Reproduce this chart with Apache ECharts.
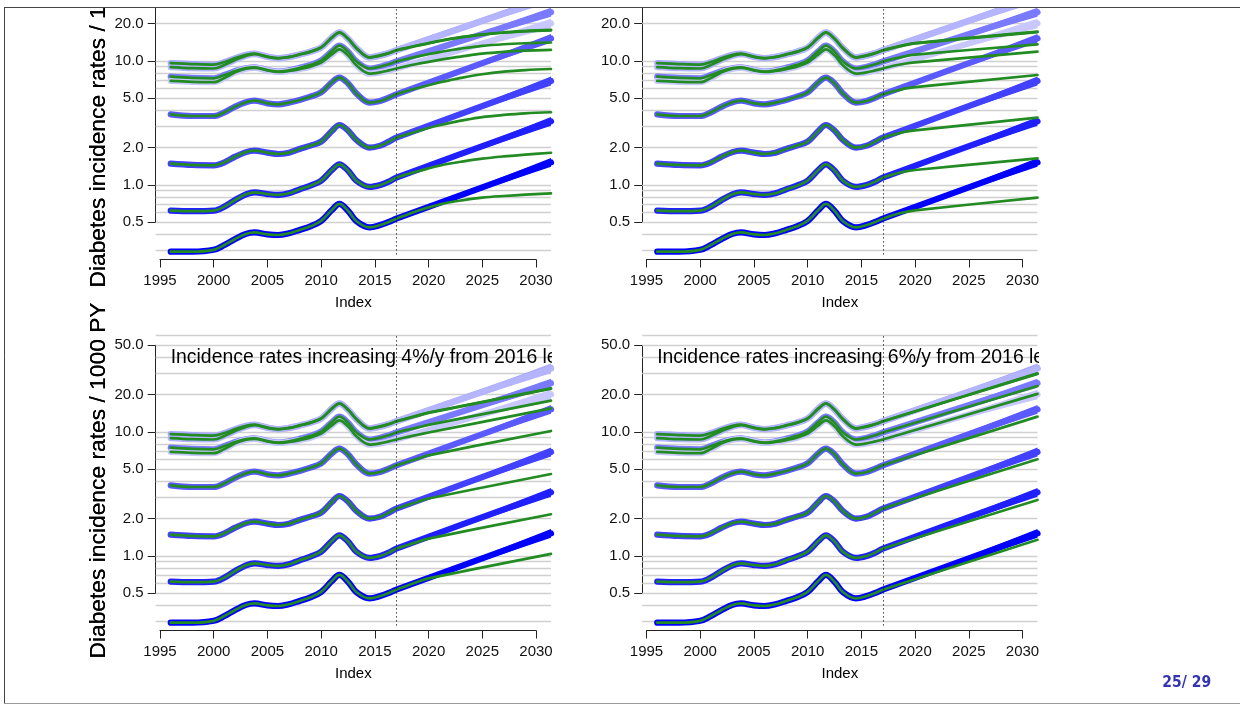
<!DOCTYPE html>
<html><head><meta charset="utf-8">
<script src="https://cdn.jsdelivr.net/npm/echarts@6/dist/echarts.min.js"></script>
<style>html,body{margin:0;padding:0;background:#fff}#c{width:1240px;height:704px}</style>
</head><body><div id="c"></div>
<script>
// ---------- DATA ----------
const histYears = [1996,1998,2000,2001,2002,2003,2003.8,2005,2006,2007,2008,2009,2010,2011,2011.7,2012.5,2013.3,2014.5,2015.5,2016.3,2017];
const histC1 = [0.290,0.290,0.300,0.328,0.367,0.403,0.414,0.400,0.395,0.408,0.434,0.464,0.513,0.628,0.703,0.620,0.510,0.455,0.475,0.503,0.535];
const histC2 = [0.621,0.615,0.621,0.669,0.757,0.840,0.873,0.845,0.831,0.857,0.923,0.988,1.084,1.321,1.468,1.310,1.080,0.965,1.000,1.064,1.146];
const histC3 = [1.486,1.450,1.441,1.523,1.692,1.840,1.891,1.823,1.778,1.823,1.951,2.076,2.236,2.726,3.047,2.750,2.300,2.000,2.076,2.236,2.408];
const histC4 = [3.715,3.601,3.601,3.855,4.282,4.650,4.787,4.556,4.472,4.613,4.848,5.157,5.588,6.730,7.337,6.600,5.450,4.613,4.757,5.063,5.385];
const histC5 = [6.90,6.78,6.75,7.30,8.10,8.65,8.80,8.40,8.15,8.30,8.60,9.00,9.70,11.3,12.4,11.1,9.20,7.90,8.10,8.40,8.70];
const histC6 = [7.47,7.30,7.25,7.70,8.30,8.75,8.90,8.45,8.20,8.40,8.80,9.30,10.1,12.0,13.3,11.9,9.90,8.70,9.00,9.40,9.90];
const histC7 = [8.92,8.75,8.70,9.30,10.2,11.0,11.35,10.8,10.5,10.75,11.25,11.85,12.8,15.4,16.9,15.1,12.6,10.65,11.05,11.55,12.15];
const histC8 = [9.62,9.45,9.35,9.80,10.55,11.2,11.45,10.85,10.55,10.8,11.3,11.9,12.85,15.5,17.0,15.2,12.7,10.72,11.1,11.6,12.2];

const projStart = 2017, projEnd = 2031.4;
const blueEnd = [1.52, 3.26, 6.90, 15.2, 20.1, 24.7, 32.4, 32.8];
const bandLo  = [1.40, 3.00, 6.35, 14.0, 18.4, 22.7, 29.8, 30.2];
const bandHi  = [1.65, 3.54, 7.50, 16.5, 21.9, 26.9, 35.2, 35.6];

// green projections, top-left (levelling off)
const yrsTL = [2017,2018,2019,2020,2021,2022,2023,2025,2027,2029,2031.4];
const tlC1 = [0.535,0.575,0.62,0.66,0.695,0.725,0.75,0.79,0.815,0.835,0.857];
const tlC2 = [1.146,1.22,1.29,1.36,1.43,1.49,1.54,1.63,1.70,1.76,1.82];
const tlC3 = [2.408,2.56,2.72,2.88,3.03,3.17,3.30,3.53,3.67,3.78,3.86];
const tlC4 = [5.385,5.72,6.05,6.38,6.70,7.00,7.30,7.82,8.20,8.45,8.62];
const tlC5 = [8.70,9.10,9.50,9.85,10.2,10.55,10.85,11.45,11.85,12.1,12.3];
const tlC6 = [9.90,10.4,10.9,11.35,11.8,12.2,12.6,13.25,13.65,13.9,14.1];
const tlC7 = [12.15,12.7,13.3,13.85,14.45,15.0,15.5,16.3,16.9,17.35,17.65];
const tlC8 = [12.2,12.8,13.4,13.95,14.55,15.1,15.6,16.4,17.0,17.5,17.8];
// top-right (slower linear growth)
const yrsTR = [2017,2018,2019,2020,2031.4];
const trC1 = [0.535,0.573,0.603,0.625,0.79];
const trC2 = [1.146,1.22,1.28,1.32,1.64];
const trC3 = [2.408,2.55,2.68,2.76,3.49];
const trC4 = [5.385,5.70,5.98,6.15,7.71];
const trC5 = [8.70,9.15,9.50,9.75,11.89];
const trC6 = [9.90,10.4,10.9,11.25,13.63];
const trC7 = [12.15,12.75,13.35,13.85,17.1];
const trC8 = [12.2,12.85,13.45,13.95,17.25];
// bottom-left (4%/y)
const yrsBL = [2017,2018,2019,2020,2031.4];
const blC1 = [0.535,0.575,0.62,0.66,1.04];
const blC2 = [1.146,1.22,1.30,1.38,2.17];
const blC3 = [2.408,2.57,2.74,2.91,4.58];
const blC4 = [5.385,5.73,6.10,6.48,10.19];
const blC5 = [8.70,9.10,9.50,9.90,15.5];
const blC6 = [9.90,10.4,10.9,11.4,17.9];
const blC7 = [12.15,12.8,13.5,14.25,22.3];
const blC8 = [12.2,12.9,13.6,14.35,22.5];
// bottom-right (6%/y)
const yrsBR = [2017,2031.4];
const brC1 = [0.535,1.35];
const brC2 = [1.146,2.83];
const brC3 = [2.408,6.02];
const brC4 = [5.385,13.3];
const brC5 = [8.70,20.3];
const brC6 = [9.90,23.5];
const brC7 = [12.15,29.4];
const brC8 = [12.2,29.7];

const xTickMin = 1995, xTickMax = 2030, xTickStep = 5;
const yTickVals = [0.5, 1, 2, 5, 10, 20, 50];
const gridVals = [0.3,0.4,0.5,0.6,0.7,0.8,0.9,1,2,3,4,5,6,7,8,9,10,20,30,40,50,60];
const vLineYear = 2017;
const yTitle = 'Diabetes incidence rates / 1000 PY';
const xTitle = 'Index';
const noteBL = 'Incidence rates increasing 4%/y from 2016 level';
const noteBR = 'Incidence rates increasing 6%/y from 2016 level';
const pageNo = '25/ 29';

// ---------- STYLE / LAYOUT ----------
const FONT = "'Liberation Sans', Arial, Helvetica, sans-serif";
const hist = [histC1,histC2,histC3,histC4,histC5,histC6,histC7,histC8];
const blueCols = ['#0000FF','#2020FF','#4141FF','#5A5AFF','#C8C8FF','#7A7AFF','#B5B5FF','#A9A9FF'];
const GREEN = '#228B22';
const W = 395.3, H = 290;
const panels = [
  {L:155.7, T:-35.5, axisY:259.5, yrs:yrsTL, g:[tlC1,tlC2,tlC3,tlC4,tlC5,tlC6,tlC7,tlC8], note:null},
  {L:642.2, T:-35.5, axisY:259.5, yrs:yrsTR, g:[trC1,trC2,trC3,trC4,trC5,trC6,trC7,trC8], note:null},
  {L:155.7, T:335.5, axisY:630.5, yrs:yrsBL, g:[blC1,blC2,blC3,blC4,blC5,blC6,blC7,blC8], note:noteBL},
  {L:642.2, T:335.5, axisY:630.5, yrs:yrsBR, g:[brC1,brC2,brC3,brC4,brC5,brC6,brC7,brC8], note:noteBR}
];

const grids=[], xAxes=[], yAxes=[], series=[], graphics=[];
const order = [7,6,5,4,3,2,1,0];
const G = (o) => Object.assign({outerBoundsMode:'none', containLabel:false}, o);
panels.forEach(p => {
  // data grid
  const gi = grids.length;
  grids.push(G({left:p.L, top:p.T, width:W, height:H}));
  xAxes.push({gridIndex:gi, type:'value', min:1994.6, max:2031.4, axisLine:{show:false}, axisTick:{show:false}, axisLabel:{show:false}, splitLine:{show:false},
    name:xTitle, nameLocation:'middle', nameGap:41, nameTextStyle:{fontSize:15, color:'#000', fontFamily:FONT}});
  yAxes.push({gridIndex:gi, type:'log', min:0.275, max:60, axisLine:{show:false}, axisTick:{show:false}, axisLabel:{show:false}, splitLine:{show:false}});
  // x axis grid
  const gx = grids.length;
  grids.push(G({left:p.L+4.3, top:p.axisY-10, width:376, height:10}));
  xAxes.push({gridIndex:gx, type:'value', min:xTickMin, max:xTickMax, interval:xTickStep,
    axisLine:{show:true, lineStyle:{color:'#222', width:1}}, axisTick:{show:true, length:8, lineStyle:{color:'#222', width:1}},
    axisLabel:{fontSize:15, color:'#111', margin:14, fontFamily:FONT, formatter:v=>String(v)}, splitLine:{show:false}});
  yAxes.push({gridIndex:gx, type:'value', show:false});
  // y axis grid
  const gy = grids.length;
  grids.push(G({left:p.L, top:p.T+9.8, width:10, height:248}));
  xAxes.push({gridIndex:gy, type:'value', show:false});
  yAxes.push({gridIndex:gy, type:'log', min:0.5, max:50,
    axisLine:{show:true, lineStyle:{color:'#222', width:1}},
    axisTick:{show:true, length:8, customValues:yTickVals, lineStyle:{color:'#222', width:1}},
    axisLabel:{customValues:yTickVals, formatter:v=>Number(v).toFixed(1), margin:12, fontSize:15, color:'#111', fontFamily:FONT},
    splitLine:{show:false}});

  // horizontal grid lines (behind)
  series.push({type:'line', xAxisIndex:gi, yAxisIndex:gi, data:[], silent:true, z:1, animation:false,
    markLine:{silent:true, z:1, symbol:['none','none'], label:{show:false}, animation:false,
      lineStyle:{color:'#D0D0D0', width:1.4, type:'solid'},
      data: gridVals.map(v=>({yAxis:v}))}});
  // blue lines
  order.forEach(i => {
    series.push({type:'line', xAxisIndex:gi, yAxisIndex:gi, silent:true, animation:false, z:2,
      data: histYears.map((y,j)=>[y, hist[i][j]]).concat([[projEnd, blueEnd[i]]]),
      smooth:0.35, showSymbol:false, symbol:'none',
      lineStyle:{color:blueCols[i], width:6.2, cap:'round', join:'round'}});
  });
  // blue bands
  series.push({type:'custom', xAxisIndex:gi, yAxisIndex:gi, clip:true, silent:true, z:2, animation:false,
    data: order.map(i=>[i]),
    renderItem:(params, api)=>{
      const i = order[params.dataIndex];
      const a = api.coord([projStart, hist[i][hist[i].length-1]]);
      const b = api.coord([projEnd, bandHi[i]]);
      const c = api.coord([projEnd, bandLo[i]]);
      return {type:'polygon', shape:{points:[a,b,c]}, style:{fill:blueCols[i]}};
    }});
  // green lines
  order.forEach(i => {
    const d = histYears.map((y,j)=>[y, hist[i][j]]);
    p.yrs.forEach((y,j)=>{ if (j>0) d.push([y, p.g[i][j]]); });
    series.push({type:'line', xAxisIndex:gi, yAxisIndex:gi, silent:true, animation:false, z:3,
      data:d, smooth:0.35, showSymbol:false, symbol:'none',
      lineStyle:{color:GREEN, width:2.7, cap:'round', join:'round'}});
  });
  // note text (clipped by plot region)
  if (p.note) {
    series.push({type:'custom', xAxisIndex:gi, yAxisIndex:gi, clip:true, silent:true, z:4, animation:false,
      data:[[2000,1]],
      renderItem:(params, api)=>{
        const cs = params.coordSys;
        return {type:'text', x:cs.x+15, y:cs.y+22.2,
          style:{text:p.note, fontSize:19.4, fontFamily:FONT, fill:'#000', align:'left', verticalAlign:'middle'}};
      }});
  }
  // dotted vertical line at 2017 (on top)
  series.push({type:'line', xAxisIndex:gi, yAxisIndex:gi, data:[], silent:true, z:6, animation:false,
    markLine:{silent:true, z:6, symbol:['none','none'], label:{show:false}, animation:false,
      lineStyle:{color:'#111', width:1, type:[1.2,2.8]},
      data:[{xAxis:vLineYear}]}});
  graphics.push({type:'text', x:99, y:p.T+145, rotation:Math.PI/2, z:50,
    style:{text:yTitle, fontSize:22.8, fontFamily:FONT, fill:'#000', align:'center', verticalAlign:'middle'}});
});

// page frame
graphics.push({type:'rect', shape:{x:0,y:0,width:1240,height:7}, style:{fill:'#fff'}, z:100});
graphics.push({type:'line', shape:{x1:4, y1:7.5, x2:1240, y2:7.5}, style:{stroke:'#444', lineWidth:1}, z:101});
graphics.push({type:'line', shape:{x1:4.5, y1:7, x2:4.5, y2:703.5}, style:{stroke:'#444', lineWidth:1}, z:101});
graphics.push({type:'line', shape:{x1:4, y1:703.5, x2:1240, y2:703.5}, style:{stroke:'#999', lineWidth:1}, z:101});
graphics.push({type:'text', x:1186.7, y:683.3, z:101,
  style:{text:pageNo, font:"bold 15.5px 'DejaVu Sans Condensed', 'DejaVu Sans', sans-serif", fill:'#3333B3', align:'center', verticalAlign:'middle'}});

const chart = echarts.init(document.getElementById('c'), null, {renderer:'canvas'});
chart.setOption({animation:false, backgroundColor:'#fff', grid:grids, xAxis:xAxes, yAxis:yAxes, series:series, graphic:{elements:graphics}});
</script></body></html>
